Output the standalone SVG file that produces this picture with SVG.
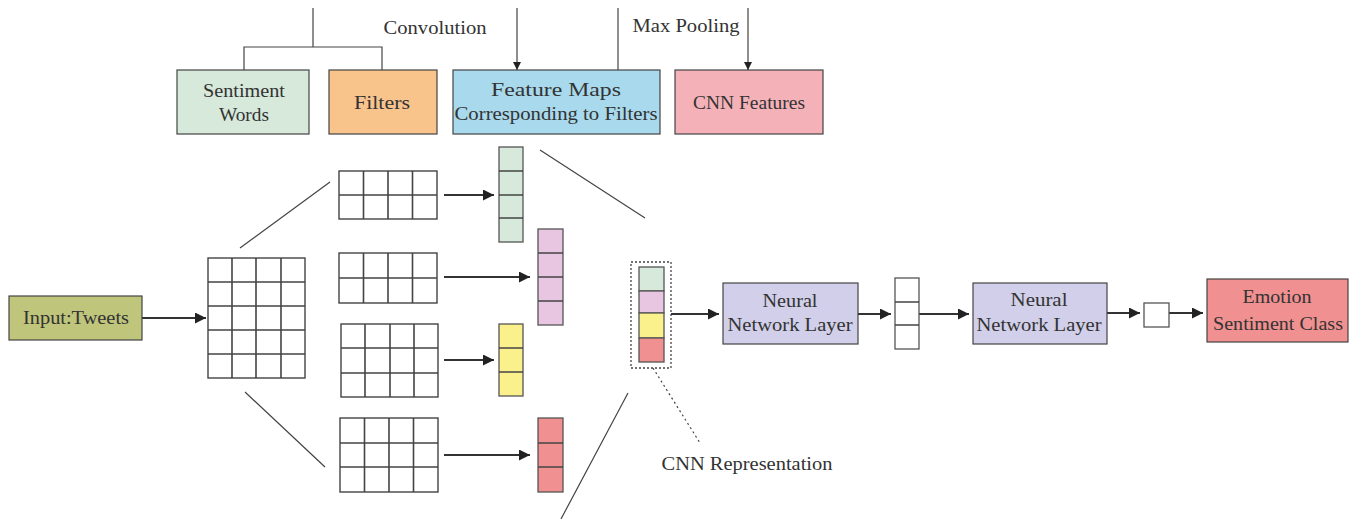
<svg xmlns="http://www.w3.org/2000/svg" width="1351" height="519" viewBox="0 0 1351 519">
<style>
text{font-family:"Liberation Serif","DejaVu Serif","Times New Roman",serif;fill:#333;font-size:19px;text-anchor:middle}
.box{stroke:#444;stroke-width:1.2}
.ln{stroke:#444;stroke-width:1.2;fill:none}
.arr{stroke:#333;stroke-width:2.2;fill:none;marker-end:url(#ah)}
.arrs{stroke:#444;stroke-width:1.2;fill:none;marker-end:url(#ahs)}
.grid{fill:#fff;stroke:#444;stroke-width:1.4}
.gl{stroke:#444;stroke-width:1.6}
.cell{stroke:#555;stroke-width:1.3}
</style>
<defs>
<marker id="ah" viewBox="0 0 10 10" refX="10" refY="5" markerWidth="5" markerHeight="5" orient="auto" markerUnits="strokeWidth"><path d="M0,0 L10,5 L0,10 z" fill="#222"/></marker>
<marker id="ahs" viewBox="0 0 10 10" refX="10" refY="5" markerWidth="7" markerHeight="7" orient="auto" markerUnits="strokeWidth"><path d="M0,0 L10,5 L0,10 z" fill="#222"/></marker>
</defs>
<rect width="1351" height="519" fill="#fff"/>

<g id="connectors">
<path class="ln" d="M313,8 V47 M244,70 V47 H382 V70"/>
<path class="arrs" d="M517,8 V70"/>
<path class="ln" d="M618,8 V70"/>
<path class="arrs" d="M748,8 V70"/>
<path class="arr" d="M142,318 H206"/>
<path class="ln" d="M240,248 L330,182 M245,392 L325,467"/>
<path class="arr" d="M444,195 H494"/>
<path class="arr" d="M444,277 H530"/>
<path class="arr" d="M444,360 H494"/>
<path class="arr" d="M444,455 H530"/>
<path class="ln" d="M540,150 L645,218 M628,393 L561,519"/>
<path class="ln" stroke-dasharray="2,3" d="M653,368 L700,443"/>
<path class="arr" d="M671,314 H719"/>
<path class="arr" d="M858,314 H891"/>
<path class="arr" d="M919,314 H969"/>
<path class="arr" d="M1107,313 H1140"/>
<path class="arr" d="M1169,313 H1203"/>
</g>

<g font-family="Liberation Serif, DejaVu Serif, serif">
<text x="435" y="34" textLength="103" lengthAdjust="spacingAndGlyphs">Convolution</text>
<text x="686" y="32" textLength="107" lengthAdjust="spacingAndGlyphs">Max Pooling</text>

<g id="sentiment-words">
<rect class="box" x="177" y="70" width="132" height="64" fill="#d6e9db"/>
<text x="244" y="97" textLength="82" lengthAdjust="spacingAndGlyphs">Sentiment</text>
<text x="244" y="121" textLength="50" lengthAdjust="spacingAndGlyphs">Words</text>
</g>
<g id="filters">
<rect class="box" x="329" y="70" width="108" height="64" fill="#f9c48c"/>
<text x="382" y="109" textLength="56" lengthAdjust="spacingAndGlyphs">Filters</text>
</g>
<g id="feature-maps">
<rect class="box" x="453" y="70" width="207" height="64" fill="#a8d9ec"/>
<text x="556" y="96" textLength="130" lengthAdjust="spacingAndGlyphs">Feature Maps</text>
<text x="556" y="120" textLength="203" lengthAdjust="spacingAndGlyphs">Corresponding to Filters</text>
</g>
<g id="cnn-features">
<rect class="box" x="675" y="70" width="148" height="64" fill="#f4b1b8"/>
<text x="749" y="109" textLength="112" lengthAdjust="spacingAndGlyphs">CNN Features</text>
</g>

<g id="input">
<rect class="box" x="9" y="296" width="133" height="44" fill="#bfc57a"/>
<text x="76" y="324" textLength="106" lengthAdjust="spacingAndGlyphs">Input:Tweets</text>
</g>

<g id="input-matrix">
<rect class="grid" x="208" y="258" width="97" height="120"/>
<path class="gl" d="M232,258 V378 M256,258 V378 M281,258 V378 M208,282 H305 M208,306 H305 M208,330 H305 M208,354 H305"/>
</g>

<g id="filter-1">
<rect class="grid" x="339" y="171" width="98" height="48"/>
<path class="gl" d="M363.5,171 V219 M388,171 V219 M412.5,171 V219 M339,195 H437"/>
</g>
<g id="filter-2">
<rect class="grid" x="339" y="253" width="98" height="50"/>
<path class="gl" d="M363.5,253 V303 M388,253 V303 M412.5,253 V303 M339,278 H437"/>
</g>
<g id="filter-3">
<rect class="grid" x="341" y="324" width="97" height="73"/>
<path class="gl" d="M365,324 V397 M390,324 V397 M414,324 V397 M341,348 H438 M341,373 H438"/>
</g>
<g id="filter-4">
<rect class="grid" x="340" y="418" width="98" height="74"/>
<path class="gl" d="M364.5,418 V492 M389,418 V492 M413.5,418 V492 M340,443 H438 M340,467 H438"/>
</g>

<g id="fmap-green">
<rect class="cell" x="499" y="147" width="24" height="95" fill="#d6e9db"/>
<path class="gl" d="M499,171 H523 M499,195 H523 M499,218 H523"/>
</g>
<g id="fmap-pink">
<rect class="cell" x="538" y="229" width="25" height="96" fill="#e8c6e2"/>
<path class="gl" d="M538,253 H563 M538,277 H563 M538,301 H563"/>
</g>
<g id="fmap-yellow">
<rect class="cell" x="499" y="324" width="24" height="72" fill="#faf08c"/>
<path class="gl" d="M499,348 H523 M499,372 H523"/>
</g>
<g id="fmap-red">
<rect class="cell" x="538" y="418" width="25" height="74" fill="#f09090"/>
<path class="gl" d="M538,443 H563 M538,467 H563"/>
</g>

<g id="cnn-representation">
<rect x="631" y="262" width="40" height="106" fill="none" stroke="#444" stroke-width="1.3" stroke-dasharray="2,2"/>
<rect class="cell" x="639" y="267" width="25" height="24" fill="#d6e9db"/>
<rect class="cell" x="639" y="291" width="25" height="22" fill="#e8c6e2"/>
<rect class="cell" x="639" y="313" width="25" height="25" fill="#faf08c"/>
<rect class="cell" x="639" y="338" width="25" height="24" fill="#f09090"/>
<text x="747" y="470" textLength="171" lengthAdjust="spacingAndGlyphs">CNN Representation</text>
</g>

<g id="nn-layer-1">
<rect class="box" x="723" y="283" width="135" height="61" fill="#d1cfe9"/>
<text x="790" y="307" textLength="55" lengthAdjust="spacingAndGlyphs">Neural</text>
<text x="790" y="331" textLength="125" lengthAdjust="spacingAndGlyphs">Network Layer</text>
</g>

<g id="hidden-vector">
<rect class="cell" x="895" y="278" width="24" height="71" fill="#fff"/>
<path class="gl" d="M895,302 H919 M895,325 H919"/>
</g>

<g id="nn-layer-2">
<rect class="box" x="973" y="283" width="134" height="61" fill="#d1cfe9"/>
<text x="1039" y="306" textLength="57" lengthAdjust="spacingAndGlyphs">Neural</text>
<text x="1039" y="331" textLength="125" lengthAdjust="spacingAndGlyphs">Network Layer</text>
</g>

<g id="output-cell">
<rect class="cell" x="1144" y="303" width="25" height="24" fill="#fff"/>
</g>

<g id="emotion-class">
<rect class="box" x="1207" y="279" width="141" height="63" fill="#f09090"/>
<text x="1277" y="303" textLength="69" lengthAdjust="spacingAndGlyphs">Emotion</text>
<text x="1278" y="330" textLength="130" lengthAdjust="spacingAndGlyphs">Sentiment Class</text>
</g>
</g>
</svg>
